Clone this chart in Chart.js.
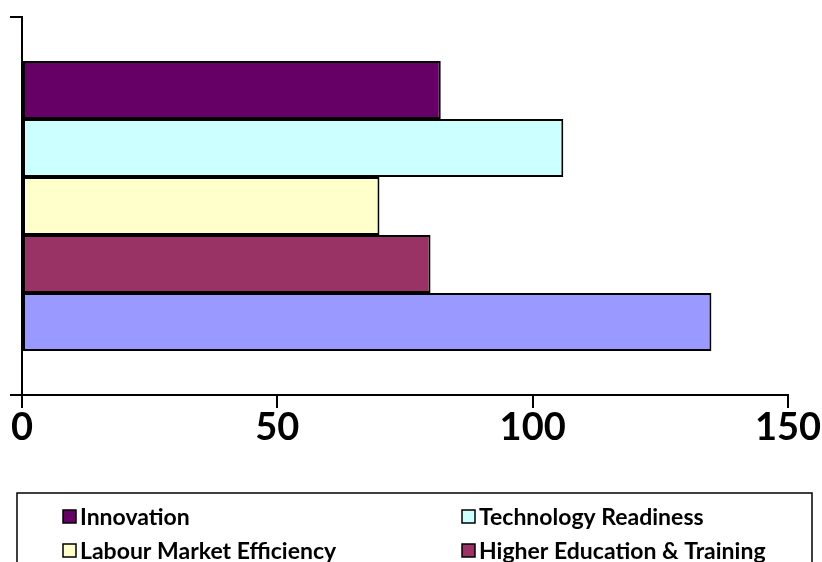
<!DOCTYPE html>
<html>
<head>
<meta charset="utf-8">
<script src="https://cdn.jsdelivr.net/npm/chart.js@4/dist/chart.umd.min.js"></script>
<style>
  html, body { margin: 0; padding: 0; background: #fff; }
  #wrap { width: 822px; height: 562px; position: relative; }
</style>
</head>
<body>
<div id="wrap"><canvas id="pillars"></canvas></div>
<script>
// one category, five series (top to bottom)
const categories = [""];
const seriesNames = [
  "Innovation",
  "Technology Readiness",
  "Labour Market Efficiency",
  "Higher Education & Training",
  "Infrastructure",
];
const seriesValues = [82, 106, 70, 80, 135];
const seriesColors = ["#660066", "#CCFFFF", "#FFFFCC", "#993366", "#9999FF"];
const xTicks = [0, 50, 100, 150];

const FONT = "Lato, 'Open Sans', sans-serif";

const datasets = seriesNames.map((name, i) => ({
  label: name,
  data: [seriesValues[i]],
  backgroundColor: seriesColors[i],
  borderColor: "#000",
  borderWidth: 2,
  borderSkipped: false,
}));

// legend drawn by hand: boxed, two columns, clipped at the bottom like the original
const boxLegend = {
  id: "boxLegend",
  afterDraw(chart) {
    const ctx = chart.ctx;
    ctx.save();
    ctx.strokeStyle = "#000";
    ctx.lineWidth = 1.5;
    ctx.strokeRect(17, 493, 795, 120);

    ctx.font = "bold 23px " + FONT;
    ctx.textBaseline = "middle";
    const cols = [63, 462];
    const rows = [517, 551, 585];
    chart.data.datasets.forEach((ds, i) => {
      const x = cols[i % 2];
      const y = rows[Math.floor(i / 2)];
      ctx.fillStyle = ds.backgroundColor;
      ctx.fillRect(x, y - 7, 13, 13);
      ctx.strokeStyle = "#000";
      ctx.lineWidth = 1.5;
      ctx.strokeRect(x, y - 7, 13, 13);
      ctx.fillStyle = "#000";
      ctx.fillText(ds.label, x + 17, y + 1);
    });
    ctx.restore();
  },
};

const config = {
  type: "bar",
  data: { labels: categories, datasets: datasets },
  options: {
    indexAxis: "y",
    animation: false,
    responsive: false,
    categoryPercentage: 0.767,
    barPercentage: 1,
    layout: { padding: { top: 17, right: 34, left: 0, bottom: 0 } },
    plugins: {
      legend: { display: false },
      tooltip: { enabled: false },
    },
    scales: {
      x: {
        min: 0,
        max: 150,
        afterBuildTicks: (scale) => {
          scale.ticks = xTicks.map((v) => ({ value: v }));
        },
        afterFit: (scale) => {
          scale.height = 167;
        },
        grid: {
          drawOnChartArea: false,
          tickLength: 13,
          color: "#000",
          lineWidth: 2,
        },
        border: { color: "#000", width: 2 },
        ticks: {
          color: "#000",
          padding: -3,
          maxRotation: 0,
          font: { family: FONT, size: 38, weight: "bold" },
        },
      },
      y: {
        afterFit: (scale) => {
          scale.width = 22;
        },
        grid: {
          drawOnChartArea: false,
          tickLength: 12,
          color: "#000",
          lineWidth: 2,
        },
        border: { color: "#000", width: 2 },
        ticks: { display: true },
      },
    },
  },
  plugins: [boxLegend],
};

const canvas = document.getElementById("pillars");
canvas.width = 822;
canvas.height = 562;
new Chart(canvas, config);
</script>
</body>
</html>
